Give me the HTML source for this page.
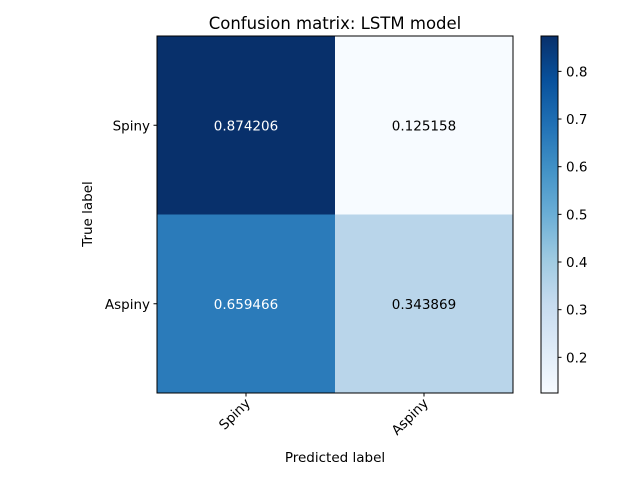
<!DOCTYPE html>
<html><head><meta charset="utf-8"><style>
body{margin:0;background:#fff}
svg text{font-family:"DejaVu Sans","Liberation Sans",sans-serif}
</style></head><body>
<svg id="chart" width="640" height="480" xmlns="http://www.w3.org/2000/svg">
<defs><linearGradient id="cbg" x1="0" y1="1" x2="0" y2="0">
<stop offset="0" stop-color="#f7fbff"/><stop offset="0.125" stop-color="#deebf7"/><stop offset="0.25" stop-color="#c6dbef"/><stop offset="0.375" stop-color="#9ecae1"/><stop offset="0.5" stop-color="#6baed6"/><stop offset="0.625" stop-color="#4292c6"/><stop offset="0.75" stop-color="#2171b5"/><stop offset="0.875" stop-color="#08519c"/><stop offset="1" stop-color="#08306b"/>
</linearGradient></defs>
<text x="335" y="29" font-size="16.5" text-anchor="middle">Confusion matrix: LSTM model</text>
<g id="cells"></g>
<rect x="157" y="36" width="356" height="357" fill="none" stroke="#000" stroke-width="1"/>
<g id="axes"></g>
<text x="335" y="462" font-size="13.5" text-anchor="middle">Predicted label</text>
<text transform="translate(92,214) rotate(-90)" font-size="13.5" text-anchor="middle">True label</text>
<rect x="541" y="36" width="17" height="357" fill="url(#cbg)" stroke="#000" stroke-width="1"/>
<g id="cbticks"></g>
</svg>
<script>
const classes=["Spiny","Aspiny"];
const row0=[0.874206,0.125158];
const row1=[0.659466,0.343869];
const cbTicks=[0.2,0.3,0.4,0.5,0.6,0.7,0.8];
const matrix=[row0,row1];
const NS="http://www.w3.org/2000/svg";
const stops=["#f7fbff","#deebf7","#c6dbef","#9ecae1","#6baed6","#4292c6","#2171b5","#08519c","#08306b"];
const all=matrix.flat();const vmin=Math.min(...all),vmax=Math.max(...all);
function hex(c){return [1,3,5].map(i=>parseInt(c.substr(i,2),16));}
function blues(t){t=Math.max(0,Math.min(1,t));const p=t*8,i=Math.min(7,Math.floor(p)),f=p-i;const a=hex(stops[i]),b=hex(stops[i+1]);return "rgb("+a.map((v,k)=>Math.round(v+(b[k]-v)*f)).join(",")+")";}
const X0=157,Y0=36,W=356,H=357,n=classes.length,cw=W/n,ch=H/n;
const xs=j=>X0+cw*j, ys=i=>Y0+ch*i;
function mk(tag,attrs,parent){const e=document.createElementNS(NS,tag);for(const k in attrs)e.setAttribute(k,attrs[k]);parent.appendChild(e);return e;}
const cells=document.getElementById("cells"),axes=document.getElementById("axes"),cbt=document.getElementById("cbticks");
matrix.forEach((row,i)=>row.forEach((v,j)=>{
 const r=mk("rect",{x:xs(j),y:ys(i),width:cw,height:ch,fill:blues((v-vmin)/(vmax-vmin))},cells);
 
 
 const t=mk("text",{x:xs(j)+cw/2,y:ys(i)+ch/2+5,"font-size":13.5,"text-anchor":"middle",fill:v>vmax/2?"#fff":"#000"},cells);
 t.textContent=v.toFixed(6);
 
 
}));
classes.forEach((c,k)=>{
 const cx=xs(k)+cw/2, cy=ys(k)+ch/2;
 mk("line",{x1:cx,x2:cx,y1:393,y2:396.5,stroke:"#000"},axes);
 const tx=mk("text",{transform:"translate("+(cx+5)+",404) rotate(-45)","font-size":13.5,"text-anchor":"end"},axes);
 tx.textContent=c;
 
 
 mk("line",{x1:153.5,x2:157,y1:cy,y2:cy,stroke:"#000"},axes);
 const ty=mk("text",{x:150,y:cy+5,"font-size":13.5,"text-anchor":"end"},axes);
 ty.textContent=c;
 
 
});
cbTicks.forEach(v=>{
 const y=393-(v-vmin)/(vmax-vmin)*357;
 mk("line",{x1:558,x2:561.5,y1:y,y2:y,stroke:"#000"},cbt);
 const t=mk("text",{x:566,y:y+5,"font-size":13.5},cbt);
 t.textContent=v.toFixed(1);
 
 
});
</script>
</body></html>
